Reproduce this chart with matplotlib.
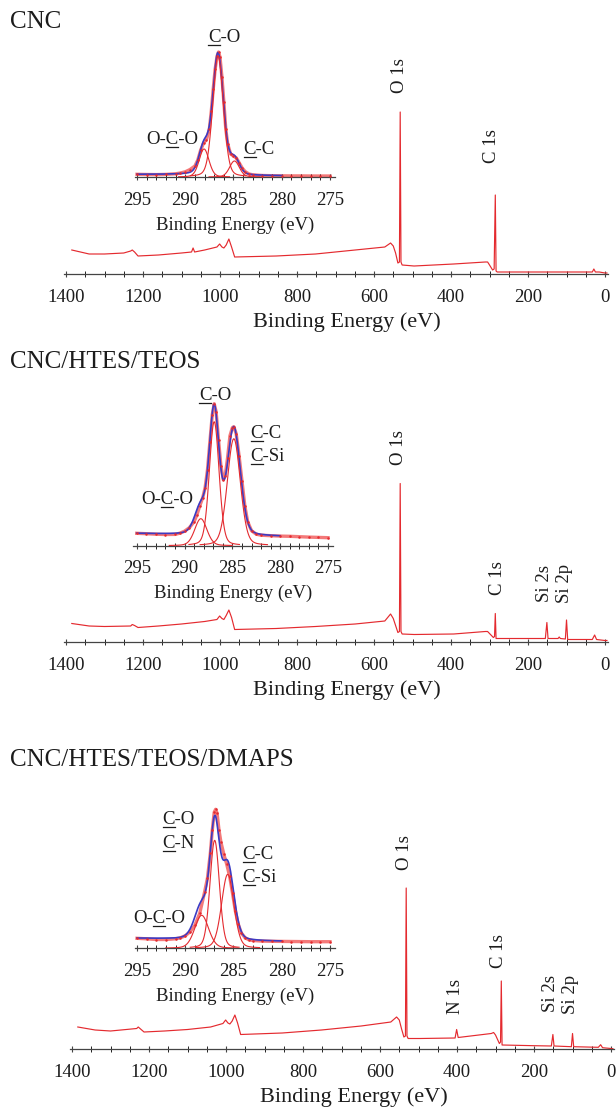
import numpy as np
import matplotlib
matplotlib.use("Agg")
import matplotlib.pyplot as plt
from matplotlib.lines import Line2D
from matplotlib.ticker import MultipleLocator

plt.rcParams["font.family"] = ["Liberation Serif", "DejaVu Serif"]

W, H = 616, 1111
RED = "#e42a2f"
LIGHT_RED = "#f26262"
BLUE = "#3b3bc4"
INK = "#1c1c1c"

titles = ["CNC", "CNC/HTES/TEOS", "CNC/HTES/TEOS/DMAPS"]

# ---- survey spectra (binding energy eV, intensity a.u.) ----
survey_cnc = [(1385, 24), (1340, 20), (1300, 20), (1250, 21), (1232, 23), (1228, 24), (1222, 22),
              (1213, 18), (1160, 19), (1100, 21), (1074, 22), (1070, 26), (1066, 22), (1040, 24),
              (1008, 27), (1001, 30), (995, 27), (990, 26), (984, 29), (977, 35), (970, 27),
              (962, 17), (854, 18), (752, 20), (649, 24), (572, 27), (557, 31), (550, 28),
              (544, 21), (538, 11), (534, 12), (532, 162), (530, 12), (527, 9), (496, 8),
              (393, 10), (311, 12), (305, 12), (300, 9), (292, 4), (288, 5), (285, 79), (283, 3),
              (280, 2), (250, 2), (150, 2), (60, 2), (33, 2), (29, 5), (25, 2), (15, 2), (0, 1), (-5, 1)]

survey_hybrid = [(1385, 18), (1340, 15.5), (1300, 15), (1232, 15.5), (1228, 17), (1222, 16),
                 (1213, 14), (1160, 15.5), (1100, 17.5), (1040, 20), (1008, 22), (1001, 25.5),
                 (995, 23), (990, 22), (984, 26), (977, 31.5), (970, 24), (962, 12), (854, 13),
                 (752, 15), (649, 17.5), (572, 20.5), (557, 27.5), (550, 23), (544, 16), (538, 9),
                 (534, 10), (532, 158), (530, 10), (527, 7.5), (496, 7), (393, 7.5), (311, 10),
                 (305, 10), (300, 8), (290, 4), (287, 5), (285, 28), (283, 3), (200, 3), (155, 3),
                 (151, 19), (148, 3), (122, 3), (119, 4.5), (116, 3), (103, 2.5), (100, 21.5),
                 (97, 2), (33, 2), (27, 6.5), (22, 2), (0, 1), (-5, 1)]

survey_dmaps = [(1385, 22), (1340, 19), (1300, 18), (1232, 20.5), (1228, 22), (1222, 20),
                (1213, 17), (1160, 18), (1100, 19.5), (1040, 22), (1008, 25.5), (1001, 29),
                (995, 26), (990, 25), (984, 28), (977, 34), (970, 26), (962, 14.5), (854, 16),
                (752, 19), (649, 23), (572, 27), (557, 32), (550, 29), (544, 20), (538, 12),
                (534, 13), (532, 161), (530, 13), (527, 10.5), (496, 10.5), (405, 11), (401, 19.5),
                (397, 11.5), (311, 15.5), (305, 16.5), (300, 14), (290, 5.5), (287, 7), (285, 68),
                (283, 4), (200, 3.3), (155, 3), (151, 14.5), (148, 3), (103, 2.3), (100, 15.5),
                (97, 2.3), (33, 1.7), (27, 4.3), (22, 1.3), (0, 0.5), (-5, 0.3)]

peak_names_cnc = ["O 1s", "C 1s"]
peak_names_hybrid = ["O 1s", "C 1s", "Si 2s", "Si 2p"]
peak_names_dmaps = ["O 1s", "N 1s", "C 1s", "Si 2s", "Si 2p"]

# ---- C 1s high resolution: measured points (eV, a.u.) ----
c1s_cnc = [(295, 2.7), (294, 2.5), (293, 2.4), (292, 2.6), (291, 3.2), (290.5, 4), (290, 5.2),
           (289.5, 7.5), (289, 11), (288.7, 17), (288.4, 27), (288.1, 34), (287.8, 37.5),
           (287.5, 48), (287.3, 66), (287.1, 88), (286.9, 108), (286.7, 121), (286.55, 125),
           (286.4, 120), (286.2, 100), (286.0, 75), (285.8, 48), (285.6, 33), (285.3, 23),
           (285.0, 21), (284.7, 19), (284.4, 14), (284.1, 9), (283.8, 5.5), (283.4, 3), (283, 2.2),
           (282, 1.5), (281, 1.3), (280, 1.2), (279, 1.1), (278, 1.1), (277, 1), (276, 1), (275, 1)]

c1s_hybrid = [(295, 12.4), (294, 12), (293, 11.5), (292, 11.2), (291, 11.3), (290.5, 12.5),
              (290, 14.5), (289.5, 18), (289, 24), (288.7, 31), (288.4, 40), (288.1, 48),
              (287.85, 58), (287.6, 76), (287.35, 104), (287.1, 131), (286.9, 142), (286.7, 134),
              (286.45, 106), (286.2, 80), (285.95, 66), (285.75, 70), (285.5, 88), (285.25, 110),
              (285.0, 118), (284.85, 119), (284.6, 112), (284.3, 90), (284.0, 65), (283.7, 40),
              (283.4, 24), (283.0, 15), (282.5, 11.5), (282, 10.5), (281, 10), (280, 9.6),
              (279, 9.4), (278, 9), (277, 8.6), (276, 8.3), (275, 8)]

c1s_dmaps = [(295, 10), (294, 9.5), (293, 8.8), (292, 8.8), (291, 9.5), (290.5, 10.5), (290, 12.5),
             (289.5, 16.5), (289, 23), (288.5, 35), (288, 56), (287.7, 70), (287.4, 95),
             (287.2, 118), (287, 136), (286.85, 139), (286.7, 135), (286.5, 118), (286.3, 106),
             (286, 94), (285.7, 84), (285.4, 72), (285.1, 55), (284.8, 37), (284.5, 24),
             (284.2, 15.5), (283.8, 10.5), (283.4, 8.5), (283, 7.8), (282, 7.2), (281, 7), (280, 6.9),
             (279, 6.8), (278, 6.7), (277, 6.6), (276, 6.6), (275, 6.6)]

# fitted background anchors (eV, a.u.)
bg_cnc = [(295, 2.6), (289, 2.4), (286.5, 1.9), (284, 1.3), (275, 1.0)]
bg_hybrid = [(295, 12.2), (291, 11.2), (287, 10.7), (284, 9.6), (280, 9.2), (275, 8.2)]
bg_dmaps = [(295, 10), (291, 9.2), (287, 8.6), (284, 7.2), (280, 6.9), (275, 6.6)]

# fitted components: (centre eV, height a.u., FWHM eV)
fit_cnc = [(288.05, 28, 1.2), (286.6, 121, 1.3), (284.9, 16, 1.2)]
fit_hybrid = [(288.3, 27, 1.5), (286.9, 124, 1.2), (284.85, 107, 1.6)]
fit_dmaps = [(288.3, 33, 1.7), (286.95, 108, 1.15), (285.6, 74, 1.5)]

labels_cnc = ["O-_C-O", "_C-O", "_C-C"]
labels_hybrid = ["_C-O", "_C-C", "_C-Si", "O-_C-O"]
labels_dmaps = ["_C-O", "_C-N", "_C-C", "_C-Si", "O-_C-O"]


def pseudo_voigt(x, centre, height, fwhm, eta=0.2):
    d2 = 4 * (x - centre) ** 2 / fwhm ** 2
    return height * ((1 - eta) * np.exp(-np.log(2) * d2) + eta / (1 + d2))


fig = plt.figure(figsize=(W / 100, H / 100), dpi=100)
renderer = fig.canvas.get_renderer()


def px_axes(left, right, bottom, height):
    ax = fig.add_axes([left / W, 1 - bottom / H, (right - left) / W, height / H])
    ax.patch.set_alpha(0)
    for s in ["left", "right", "top"]:
        ax.spines[s].set_visible(False)
    ax.spines["bottom"].set_color("#444444")
    ax.spines["bottom"].set_linewidth(0.9)
    ax.set_yticks([])
    ax.tick_params(axis="x", colors="#444444", labelcolor=INK, labelsize=13.5, width=0.8)
    return ax


def text_width(s, fs):
    if not s:
        return 0.0
    t = fig.text(0, 0, s, fontsize=fs)
    w = t.get_window_extent(renderer).width
    t.remove()
    return w


def chem_label(label, x, y, ha="center", fs=13.5):
    pre, post = label.split("_")
    full = pre + post
    w_full = text_width(full, fs)
    w_pre = text_width(pre, fs)
    w_c = text_width(pre + post[0], fs)
    x0 = x - w_full / 2 if ha == "center" else x
    base = y + 6.2
    fig.text(x0 / W, 1 - base / H, full, fontsize=fs, ha="left", va="baseline", color=INK)
    uy = 1 - (base + 2.6) / H
    fig.add_artist(Line2D([(x0 + w_pre + 0.5) / W, (x0 + w_c) / W], [uy, uy],
                          transform=fig.transFigure, color=INK, lw=0.9))


# ---- layout ----
main_boxes = [(64.1, 608.1, 274, 175), (64.1, 608.1, 641.5, 175), (70.1, 614.1, 1049, 175)]
title_y = [22, 362, 760]
xlabel_x = [0.52, 0.52, 0.522]
peak_label_pos = [
    [(535, 198.5), (296, 127.5)],
    [(537, 194), (278, 63.5), (158, 58.5), (106, 58.5)],
    [(537, 196.5), (405, 52), (291, 98), (156, 55), (106, 55)],
]
inset_boxes = [(134.6, 334.8, 177, 140), (132.9, 332.8, 545.7, 150), (134.6, 334.8, 948.3, 150)]
inset_xlims = [(295.25, 274.5), (295.4, 274.5), (295.25, 274.5)]
inset_label_pos = [
    [(172, 138, "center"), (224, 36, "center"), (259, 148, "center")],
    [(215, 394, "center"), (250, 432, "left"), (250, 455, "left"), (167, 498, "center")],
    [(162, 818, "left"), (162, 842, "left"), (242, 853, "left"), (242, 876, "left"),
     (159, 917, "center")],
]

surveys = [survey_cnc, survey_hybrid, survey_dmaps]
peak_names = [peak_names_cnc, peak_names_hybrid, peak_names_dmaps]
c1s_data = [c1s_cnc, c1s_hybrid, c1s_dmaps]
backgrounds = [bg_cnc, bg_hybrid, bg_dmaps]
fits = [fit_cnc, fit_hybrid, fit_dmaps]
inset_labels = [labels_cnc, labels_hybrid, labels_dmaps]

for i in range(3):
    # survey panel
    ax = px_axes(*main_boxes[i])
    ev, inten = zip(*surveys[i])
    ax.plot(ev, inten, color=RED, lw=0.85)
    ax.set_xlim(1405, -8)
    ax.set_ylim(0, main_boxes[i][3])
    ax.xaxis.set_major_locator(MultipleLocator(200))
    ax.xaxis.set_minor_locator(MultipleLocator(50))
    ax.tick_params(axis="x", which="both", direction="inout", length=5, pad=8.6)
    ax.tick_params(axis="x", which="minor", length=5)
    ax.set_xlabel("Binding Energy (eV)", fontsize=16, color=INK, va="center")
    ax.xaxis.set_label_coords(xlabel_x[i], -48.5 / main_boxes[i][3])
    for name, (px, py) in zip(peak_names[i], peak_label_pos[i]):
        ax.text(px, py, name, rotation=90, ha="center", va="center", fontsize=13.5, color=INK)
    fig.text(10 / W, 1 - title_y[i] / H, titles[i], fontsize=18, ha="left", va="center", color=INK)

    # C 1s inset
    ins = px_axes(*inset_boxes[i])
    ins.set_xlim(*inset_xlims[i])
    ins.set_ylim(0, inset_boxes[i][3])
    ins.xaxis.set_major_locator(MultipleLocator(5))
    ins.xaxis.set_minor_locator(MultipleLocator(1))
    ins.tick_params(axis="x", which="both", direction="inout", length=5, pad=8.0)
    ins.tick_params(axis="x", which="minor", length=4)
    ins.set_xlabel("Binding Energy (eV)", fontsize=13.5, color=INK, va="center")
    ins.xaxis.set_label_coords(0.5, -48 / inset_boxes[i][3])

    mx, my = zip(*c1s_data[i])
    bx, by = zip(*backgrounds[i])
    grid = np.linspace(295, 280, 301)
    envelope = np.interp(grid, bx[::-1], by[::-1])
    for c, h, w in fits[i]:
        envelope = envelope + pseudo_voigt(grid, c, h, w)
    ins.plot(mx, my, color=LIGHT_RED, lw=2.4, alpha=0.85, zorder=1)
    ins.plot(grid, envelope, color=BLUE, lw=1.2, zorder=2)
    ins.plot(mx, my, "o", color=RED, ms=1.8, mew=0, zorder=3)
    for c, h, w in fits[i]:
        xs = np.linspace(c - 2.2 * w, c + 2.2 * w, 120)
        ins.plot(xs, pseudo_voigt(xs, c, h, w), color=RED, lw=0.8, zorder=4)

    for lab, (lx, ly, ha) in zip(inset_labels[i], inset_label_pos[i]):
        chem_label(lab, lx, ly, ha)

fig.savefig("out.png", dpi=100)
